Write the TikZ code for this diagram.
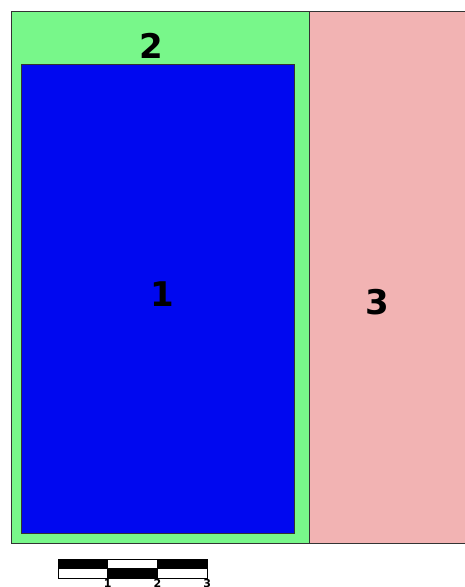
\documentclass[tikz,border=0pt]{standalone}
\usepackage{fontspec}
\setmainfont{DejaVu Sans}
\usetikzlibrary{positioning}
\definecolor{zonegreen}{RGB}{120,247,138}
\definecolor{zoneblue}{RGB}{0,8,240}
\definecolor{zonepink}{RGB}{242,179,179}

\begin{document}
\begin{tikzpicture}[x=1pt, y=-1pt,
    zone/.style={draw=black!80, line width=1pt},
    zonelabel/.style={font=\fontsize{34}{34}\selectfont\bfseries, inner sep=0pt},
    barcell/.style={draw=black, line width=0.8pt},
    barlabel/.style={font=\fontsize{11}{11}\selectfont\bfseries, inner sep=0pt, anchor=north}]

    \useasboundingbox (0,0) rectangle (464,587);

    % zones
    \draw[zone, fill=zonegreen] (11,11) rectangle (309,543);
    \draw[zone, fill=zonepink] (309,11) rectangle (470,543);
    \draw[zone, fill=zoneblue] (21,64) rectangle (294,533);

    \node[zonelabel] (lab1) at (162,294) {1};
    \node[zonelabel] (lab2) at (151,46) {2};
    \node[zonelabel] (lab3) at (377,302) {3};

    % scale bar
    \foreach \i/\top/\bot in {0/black/white, 1/white/black, 2/black/white} {
        \draw[barcell, fill=\top] ({58+49.7*\i},559) rectangle ({58+49.7*(\i+1)},568.5);
        \draw[barcell, fill=\bot] ({58+49.7*\i},568.5) rectangle ({58+49.7*(\i+1)},578);
    }
    \foreach \n in {1,2,3}
        \node[barlabel] (tick\n) at ({58+49.7*\n},579.5) {\n};
\end{tikzpicture}
\end{document}
